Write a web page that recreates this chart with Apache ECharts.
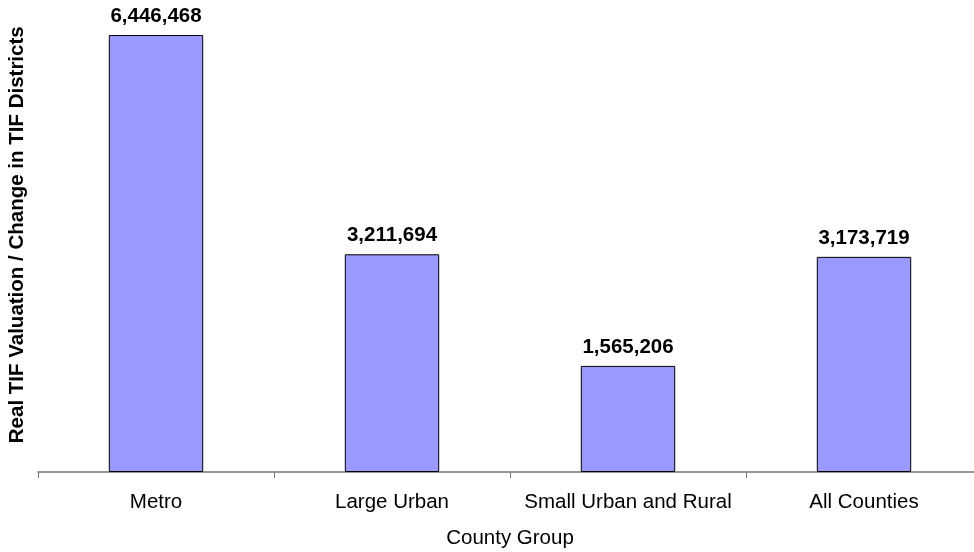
<!DOCTYPE html>
<html>
<head>
<meta charset="utf-8">
<script src="https://cdn.jsdelivr.net/npm/echarts@6/dist/echarts.min.js"></script>
<style>html,body{margin:0;padding:0;background:#fff;}#c{width:974px;height:552px;}</style>
</head>
<body>
<div id="c"></div>
<script>
const categories = ["Metro", "Large Urban", "Small Urban and Rural", "All Counties"];
const values = [6446468, 3211694, 1565206, 3173719];
const xAxisTitle = "County Group";
const yAxisTitle = "Real TIF Valuation / Change in TIF Districts";

const chart = echarts.init(document.getElementById('c'), null, {renderer: 'canvas'});
const FONT = "'Liberation Sans', Arial, sans-serif";
chart.setOption({
  animation: false,
  backgroundColor: '#ffffff',
  textStyle: {fontFamily: FONT},
  grid: {left: 38, width: 944, top: -2.5, height: 474.5, containLabel: false, outerBoundsMode: 'none'},
  xAxis: {
    type: 'category',
    data: categories,
    name: xAxisTitle,
    nameLocation: 'middle',
    nameGap: 56,
    nameTextStyle: {fontFamily: FONT, fontSize: 20.5, color: '#000'},
    axisLine: {show: true, lineStyle: {color: '#777', width: 1.5}},
    axisTick: {show: true, length: 6, lineStyle: {color: '#777', width: 1}},
    axisLabel: {fontFamily: FONT, fontSize: 20.5, color: '#000', margin: 20, interval: 0}
  },
  yAxis: {
    type: 'value',
    min: 0,
    max: 7000000,
    name: yAxisTitle,
    nameLocation: 'middle',
    nameGap: 10,
    nameTextStyle: {fontFamily: FONT, fontSize: 20.5, fontWeight: 'bold', color: '#000'},
    axisLine: {show: false},
    axisTick: {show: false},
    axisLabel: {show: false},
    splitLine: {show: false}
  },
  series: [{
    type: 'bar',
    data: values,
    barWidth: '40%',
    itemStyle: {color: '#9999FF', borderColor: '#000', borderWidth: 1},
    label: {
      show: true,
      position: 'top',
      distance: 8,
      fontFamily: FONT,
      fontSize: 20.5,
      fontWeight: 'bold',
      color: '#000',
      formatter: p => p.value.toLocaleString('en-US')
    }
  }]
});
</script>
</body>
</html>
